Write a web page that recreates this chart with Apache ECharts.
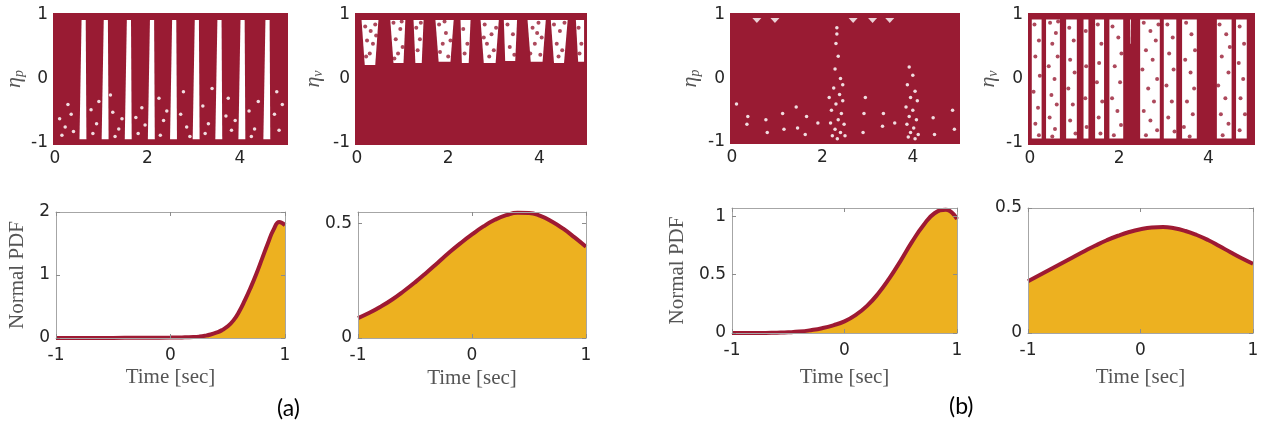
<!DOCTYPE html>
<html>
<head>
<meta charset="utf-8">
<script src="https://cdn.jsdelivr.net/npm/echarts@6/dist/echarts.min.js"></script>
<style>
  html, body { margin: 0; padding: 0; background: #fff; }
  #chart { width: 1267px; height: 432px; }
</style>
</head>
<body>
<div id="chart"></div>
<script>
// ---------- tick labels ----------
const timeTicks = [0, 2, 4];
const pdfTimeTicks = [-1, 0, 1];
const pdfTicksAp = [0, 1, 2];
const pdfTicksAv = [0, 0.5];
const pdfTicksBp = [0, 0.5, 1];
const pdfTicksBv = [0, 0.5];

// ---------- scatter fields: [t left, t right, t left (bottom), t right (bottom), eta top, eta bottom] ----------
const etaField = [[0, 5, 0, 5, 1, -1]];

// (a) eta_p: white stripes between the dense columns
const gapsAp = [
  [0.575, 0.665, 0.53, 0.68, 0.92, -0.94],
  [1.055, 1.145, 1.01, 1.16, 0.92, -0.94],
  [1.555, 1.645, 1.51, 1.66, 0.92, -0.94],
  [2.055, 2.145, 2.01, 2.16, 0.92, -0.94],
  [2.535, 2.625, 2.49, 2.64, 0.92, -0.94],
  [3.025, 3.115, 2.98, 3.13, 0.92, -0.94],
  [3.515, 3.605, 3.47, 3.62, 0.92, -0.94],
  [4.015, 4.105, 3.97, 4.12, 0.92, -0.94],
  [4.555, 4.645, 4.51, 4.66, 0.92, -0.94]
];
const specksAp = [
  [0.10,-0.62],[0.22,-0.75],[0.35,-0.55],[0.15,-0.88],[0.40,-0.82],[0.28,-0.40],
  [0.78,-0.48],[0.90,-0.70],[0.82,-0.85],[0.95,-0.35],
  [1.25,-0.52],[1.38,-0.78],[1.30,-0.90],[1.45,-0.62],[1.20,-0.25],
  [1.75,-0.60],[1.88,-0.45],[1.80,-0.85],[1.95,-0.72],
  [2.25,-0.30],[2.35,-0.65],[2.28,-0.88],[2.42,-0.50],
  [2.72,-0.55],[2.85,-0.75],[2.78,-0.20],[2.92,-0.90],
  [3.20,-0.42],[3.32,-0.70],[3.25,-0.85],[3.40,-0.15],
  [3.70,-0.58],[3.82,-0.80],[3.75,-0.30],[3.90,-0.65],
  [4.20,-0.50],[4.32,-0.78],[4.40,-0.35],[4.25,-0.90],
  [4.75,-0.55],[4.85,-0.80],[4.92,-0.40],[4.80,-0.20]
];

// (a) eta_v: tapered openings in the upper band
const gapsAv = [
  [0.10, 0.47, 0.17, 0.40, 0.92, 0.22],
  [0.73, 1.06, 0.80, 1.02, 0.92, 0.25],
  [1.24, 1.46, 1.28, 1.42, 0.92, 0.25],
  [1.72, 2.12, 1.79, 2.05, 0.92, 0.27],
  [2.27, 2.49, 2.30, 2.45, 0.92, 0.25],
  [2.71, 3.11, 2.78, 3.04, 0.92, 0.25],
  [3.22, 3.51, 3.25, 3.47, 0.92, 0.28],
  [3.74, 4.14, 3.81, 4.07, 0.92, 0.27],
  [4.25, 4.62, 4.32, 4.54, 0.92, 0.25],
  [4.80, 4.98, 4.85, 4.98, 0.92, 0.27]
];
const dotsAv = [
  [0.18,0.82],[0.30,0.75],[0.40,0.85],[0.22,0.60],[0.35,0.55],[0.28,0.40],[0.20,0.35],[0.42,0.68],
  [0.80,0.88],[0.95,0.78],[0.85,0.62],[1.00,0.50],[0.90,0.40],[0.82,0.32],[0.98,0.90],
  [1.30,0.80],[1.38,0.62],[1.33,0.45],[1.40,0.88],
  [1.80,0.85],[1.95,0.72],[2.05,0.60],[1.88,0.55],[1.82,0.42],[2.00,0.35],[1.92,0.90],
  [2.33,0.78],[2.42,0.55],[2.36,0.40],
  [2.80,0.85],[2.95,0.70],[3.05,0.80],[2.85,0.55],[3.00,0.45],[2.90,0.35],[2.78,0.65],
  [3.30,0.85],[3.42,0.70],[3.35,0.50],[3.45,0.38],
  [3.85,0.80],[3.98,0.88],[4.05,0.65],[3.90,0.55],[3.80,0.40],[4.02,0.38],[3.95,0.72],
  [4.32,0.85],[4.45,0.75],[4.55,0.88],[4.38,0.55],[4.50,0.45],[4.42,0.35],
  [4.86,0.80],[4.92,0.55],[4.88,0.40]
];

// (b) eta_p: nearly saturated field with light clusters
const notchesBp = [[0.55,0.915],[0.95,0.915],[2.68,0.915],[3.11,0.915],[3.49,0.915]];
const specksBp = [
  [2.30,0.55],[2.35,0.35],[2.28,0.15],[2.40,0.00],[2.25,-0.15],[2.38,-0.25],[2.45,-0.35],[2.30,-0.40],
  [2.20,-0.50],[2.42,-0.55],[2.35,-0.65],[2.18,-0.70],[2.48,-0.72],[2.28,-0.80],[2.40,-0.85],[2.22,-0.90],
  [2.50,-0.90],[2.33,-0.95],[2.45,-0.10],[2.15,-0.30],[2.32,0.80],[2.32,0.70],
  [3.92,0.18],[4.00,0.05],[3.88,-0.10],[4.05,-0.20],[3.95,-0.30],[4.10,-0.35],[3.85,-0.45],[4.00,-0.50],
  [3.92,-0.60],[4.08,-0.65],[3.87,-0.72],[4.02,-0.78],[3.95,-0.85],[4.12,-0.88],[3.90,-0.92],[4.05,-0.95],
  [0.33,-0.72],[0.35,-0.60],[0.75,-0.65],[0.78,-0.85],[1.12,-0.55],[1.15,-0.80],[1.42,-0.45],[1.45,-0.78],
  [1.65,-0.60],[1.62,-0.88],[2.92,-0.55],[2.90,-0.85],[2.95,-0.30],[3.35,-0.55],[3.33,-0.75],[4.45,-0.62],
  [4.48,-0.88],[4.88,-0.50],[4.92,-0.80],[0.10,-0.40],[1.90,-0.70],[3.60,-0.70]
];

// (b) eta_v: open vertical stripes with sparse points
const gapsBv = [
  [0.04, 0.26, 0.04, 0.26, 0.93, -0.93],
  [0.36, 0.67, 0.36, 0.67, 0.93, -0.93],
  [0.81, 1.05, 0.81, 1.05, 0.93, -0.93],
  [1.20, 1.31, 1.20, 1.31, 0.93, -0.93],
  [1.46, 1.66, 1.46, 1.66, 0.93, -0.93],
  [1.78, 2.09, 1.78, 2.09, 0.93, -0.93],
  [2.245, 2.265, 2.25, 2.26, 0.93, 0.55],
  [2.47, 2.91, 2.47, 2.91, 0.93, -0.93],
  [3.00, 3.28, 3.00, 3.28, 0.93, -0.93],
  [3.41, 3.74, 3.41, 3.74, 0.93, -0.93],
  [4.19, 4.52, 4.19, 4.52, 0.93, -0.93],
  [4.62, 4.86, 4.62, 4.86, 0.93, -0.93]
];
const dotsBv = [
  [0.10,0.85],[0.20,0.60],[0.12,0.35],[0.22,0.05],[0.08,-0.20],[0.18,-0.45],[0.12,-0.70],[0.20,-0.88],
  [0.45,0.88],[0.58,0.72],[0.50,0.55],[0.62,0.35],[0.42,0.20],[0.55,0.00],[0.48,-0.25],[0.60,-0.40],
  [0.44,-0.60],[0.56,-0.78],[0.50,-0.90],[0.63,0.90],
  [0.88,0.80],[0.98,0.60],[0.90,0.30],[1.00,0.10],[0.86,-0.15],[0.96,-0.40],[0.90,-0.65],[1.02,-0.85],
  [1.25,0.75],[1.26,0.20],[1.24,-0.30],[1.27,-0.75],
  [1.52,0.85],[1.60,0.55],[1.55,0.25],[1.50,-0.05],[1.62,-0.35],[1.54,-0.60],[1.58,-0.85],
  [1.85,0.82],[1.98,0.65],[2.05,0.40],[1.90,0.20],[2.02,-0.05],[1.84,-0.30],[1.96,-0.50],[2.04,-0.72],[1.88,-0.88],
  [2.55,0.88],[2.70,0.75],[2.82,0.60],[2.60,0.45],[2.75,0.30],[2.52,0.15],[2.85,0.00],[2.65,-0.15],
  [2.78,-0.35],[2.55,-0.50],[2.70,-0.65],[2.85,-0.80],[2.60,-0.88],[2.88,0.85],
  [3.08,0.85],[3.20,0.65],[3.12,0.40],[3.22,0.15],[3.06,-0.10],[3.18,-0.35],[3.10,-0.60],[3.24,-0.82],
  [3.50,0.88],[3.62,0.70],[3.70,0.45],[3.48,0.30],[3.60,0.10],[3.68,-0.15],[3.52,-0.35],[3.65,-0.55],
  [3.45,-0.75],[3.58,-0.90],
  [4.25,0.85],[4.40,0.70],[4.48,0.50],[4.30,0.35],[4.45,0.10],[4.22,-0.10],[4.38,-0.30],[4.28,-0.55],
  [4.45,-0.70],[4.32,-0.88],
  [4.70,0.82],[4.80,0.55],[4.68,0.25],[4.78,0.00],[4.72,-0.30],[4.82,-0.55],[4.70,-0.80]
];

// ---------- normal PDF curves ----------
const pdfTimeAp = [-1,-0.8,-0.6,-0.4,-0.2,0,0.1,0.2,0.25,0.3,0.35,0.4,0.45,0.5,0.55,0.6,0.65,0.7,0.75,0.8,0.85,0.9,0.95,1.0];
const pdfAp     = [0,0,0,0.002,0.004,0.006,0.009,0.015,0.022,0.035,0.055,0.085,0.125,0.185,0.28,0.42,0.6,0.8,1.02,1.26,1.5,1.72,1.84,1.79];
const pdfTime   = [-1,-0.9,-0.8,-0.7,-0.6,-0.5,-0.4,-0.3,-0.2,-0.1,0,0.1,0.2,0.3,0.4,0.5,0.6,0.7,0.8,0.9,1.0];
const pdfAv     = [0.087,0.11,0.137,0.168,0.204,0.243,0.285,0.329,0.373,0.414,0.452,0.487,0.516,0.536,0.547,0.546,0.533,0.509,0.477,0.439,0.398];
const pdfBp     = [0,0,0,0.001,0.003,0.006,0.012,0.024,0.041,0.066,0.10,0.155,0.232,0.338,0.47,0.62,0.78,0.92,1.025,1.055,0.975];
const pdfBv     = [0.207,0.231,0.255,0.279,0.303,0.327,0.35,0.371,0.389,0.404,0.415,0.422,0.424,0.419,0.408,0.392,0.372,0.348,0.323,0.299,0.277];

// ---------- styling ----------
const RED = '#991B33';
const LINE_RED = '#9E1A33';
const GOLD = '#EDB120';
const labelFont = { fontFamily: 'DejaVu Sans', fontSize: 17, color: '#262626' };
const nameFont = { fontFamily: 'Liberation Serif', fontSize: 21, color: '#555' };
const etaRich = {
  e: { fontFamily: 'Liberation Serif', fontStyle: 'italic', fontSize: 22, color: '#555' },
  s: { fontFamily: 'Liberation Serif', fontStyle: 'italic', fontSize: 14, color: '#555', padding: [10, 0, 0, 0] }
};

const option = { animation: false, grid: [], xAxis: [], yAxis: [], series: [], graphic: [] };

function fieldItem(params, api) {
  const a = api.coord([api.value(0), api.value(4)]);
  const b = api.coord([api.value(1), api.value(5)]);
  const bleed = 2;
  return {
    type: 'rect',
    shape: { x: a[0] - bleed, y: a[1] - bleed, width: b[0] - a[0] + 2 * bleed, height: b[1] - a[1] + 2 * bleed },
    style: { fill: RED }
  };
}
function gapItem(params, api) {
  const tl = api.coord([api.value(0), api.value(4)]);
  const tr = api.coord([api.value(1), api.value(4)]);
  const bl = api.coord([api.value(2), api.value(5)]);
  const br = api.coord([api.value(3), api.value(5)]);
  return { type: 'polygon', shape: { points: [tl, tr, br, bl] }, style: { fill: '#fff' } };
}

function scatterPanel(rect, sub, nameGap, layers) {
  const gi = option.grid.length;
  option.grid.push({ left: rect[0], top: rect[1], width: rect[2], height: rect[3] });
  const xi = option.xAxis.length, yi = option.yAxis.length;
  option.xAxis.push({
    gridIndex: gi, type: 'value', min: 0, max: 5,
    axisLine: { show: true, onZero: false, lineStyle: { color: '#bbb', width: 1 } },
    axisTick: { show: false }, splitLine: { show: false },
    axisLabel: Object.assign({ customValues: timeTicks, margin: 7 }, labelFont)
  });
  option.yAxis.push({
    gridIndex: gi, type: 'value', min: -1, max: 1, interval: 1,
    axisLine: { show: true, onZero: false, lineStyle: { color: '#bbb', width: 1 } },
    axisTick: { show: false }, splitLine: { show: false },
    axisLabel: Object.assign({ margin: 7 }, labelFont),
    name: '{e|η}{s|' + sub + '}', nameLocation: 'middle', nameRotate: 90, nameGap: nameGap,
    nameTextStyle: { rich: etaRich }
  });
  const enc = { x: [0, 1, 2, 3], y: [4, 5] };
  option.series.push({ type: 'custom', xAxisIndex: xi, yAxisIndex: yi, renderItem: fieldItem, data: etaField, encode: enc, z: 2, silent: true });
  if (layers.gaps) option.series.push({ type: 'custom', xAxisIndex: xi, yAxisIndex: yi, renderItem: gapItem, data: layers.gaps, encode: enc, z: 3, silent: true });
  if (layers.dots) option.series.push({ type: 'scatter', xAxisIndex: xi, yAxisIndex: yi, data: layers.dots, symbol: 'circle', symbolSize: 4, itemStyle: { color: RED }, z: 4, silent: true });
  if (layers.specks) option.series.push({ type: 'scatter', xAxisIndex: xi, yAxisIndex: yi, data: layers.specks, symbol: 'circle', symbolSize: 3.5, itemStyle: { color: '#fff', opacity: 0.85 }, z: 4, silent: true });
  if (layers.notches) option.series.push({ type: 'scatter', xAxisIndex: xi, yAxisIndex: yi, data: layers.notches, symbol: 'triangle', symbolRotate: 180, symbolSize: [9, 5], itemStyle: { color: '#fff' }, z: 4, silent: true });
}

function pdfPanel(rect, yMax, yTicks, times, values, showName, nameGapX, nameGapY) {
  const gi = option.grid.length;
  option.grid.push({ left: rect[0], top: rect[1], width: rect[2], height: rect[3] });
  const boxLine = { show: true, onZero: false, lineStyle: { color: '#a6a6a6', width: 1 } };
  const tick = { show: true, inside: true, length: 4, lineStyle: { color: '#8c8c8c' } };
  const xi = option.xAxis.length;
  option.xAxis.push({
    gridIndex: gi, type: 'value', min: -1, max: 1, interval: 1, z: 10,
    axisLine: boxLine, axisTick: tick, splitLine: { show: false },
    axisLabel: Object.assign({ customValues: pdfTimeTicks, margin: 9 }, labelFont),
    name: 'Time [sec]', nameLocation: 'middle', nameGap: nameGapX, nameTextStyle: nameFont
  });
  option.xAxis.push({
    gridIndex: gi, type: 'value', position: 'top', min: -1, max: 1, interval: 1, z: 10,
    axisLine: boxLine, axisTick: tick, axisLabel: { show: false }, splitLine: { show: false }
  });
  const yi = option.yAxis.length;
  option.yAxis.push({
    gridIndex: gi, type: 'value', min: 0, max: yMax, z: 10,
    axisLine: boxLine, axisTick: Object.assign({ customValues: yTicks }, tick), splitLine: { show: false },
    axisLabel: Object.assign({ customValues: yTicks, margin: 6 }, labelFont),
    name: showName ? 'Normal PDF' : '', nameLocation: 'middle', nameRotate: 90, nameGap: nameGapY, nameTextStyle: nameFont
  });
  option.yAxis.push({
    gridIndex: gi, type: 'value', position: 'right', min: 0, max: yMax, z: 10,
    axisLine: boxLine, axisTick: Object.assign({ customValues: yTicks }, tick), axisLabel: { show: false }, splitLine: { show: false }
  });
  option.series.push({
    type: 'line', xAxisIndex: xi, yAxisIndex: yi,
    data: times.map((t, i) => [t, values[i]]),
    smooth: 0.5, showSymbol: false, silent: true,
    lineStyle: { color: LINE_RED, width: 4 },
    areaStyle: { color: GOLD, opacity: 1 },
    z: 3
  });
}

// top row: eta scatter fields
scatterPanel([55, 15, 231, 128], 'p', 29, { gaps: gapsAp, specks: specksAp });
scatterPanel([357, 15, 228, 128], 'v', 32, { gaps: gapsAv, dots: dotsAv });
scatterPanel([732, 15, 226, 127], 'p', 30, { notches: notchesBp, specks: specksBp });
scatterPanel([1030, 15, 223, 128], 'v', 30, { gaps: gapsBv, dots: dotsBv });

// bottom row: normal PDFs
pdfPanel([56, 212, 229, 126], 2, pdfTicksAp, pdfTimeAp, pdfAp, true, 29, 28);
pdfPanel([358, 212, 228, 126], 0.55, pdfTicksAv, pdfTime, pdfAv, false, 30, 30);
pdfPanel([732, 208, 225, 125], 1.07, pdfTicksBp, pdfTime, pdfBp, true, 34, 44);
pdfPanel([1028, 208, 225, 125], 0.5, pdfTicksBv, pdfTime, pdfBv, false, 34, 30);

// panel captions
option.graphic.push(
  { type: 'text', left: 277, top: 397, style: { text: '(a)', font: '23px Lato', fill: '#000' } },
  { type: 'text', left: 949, top: 395, style: { text: '(b)', font: '23px Lato', fill: '#000' } }
);

const chart = echarts.init(document.getElementById('chart'), null, { renderer: 'canvas' });
chart.setOption(option);
</script>
</body>
</html>
